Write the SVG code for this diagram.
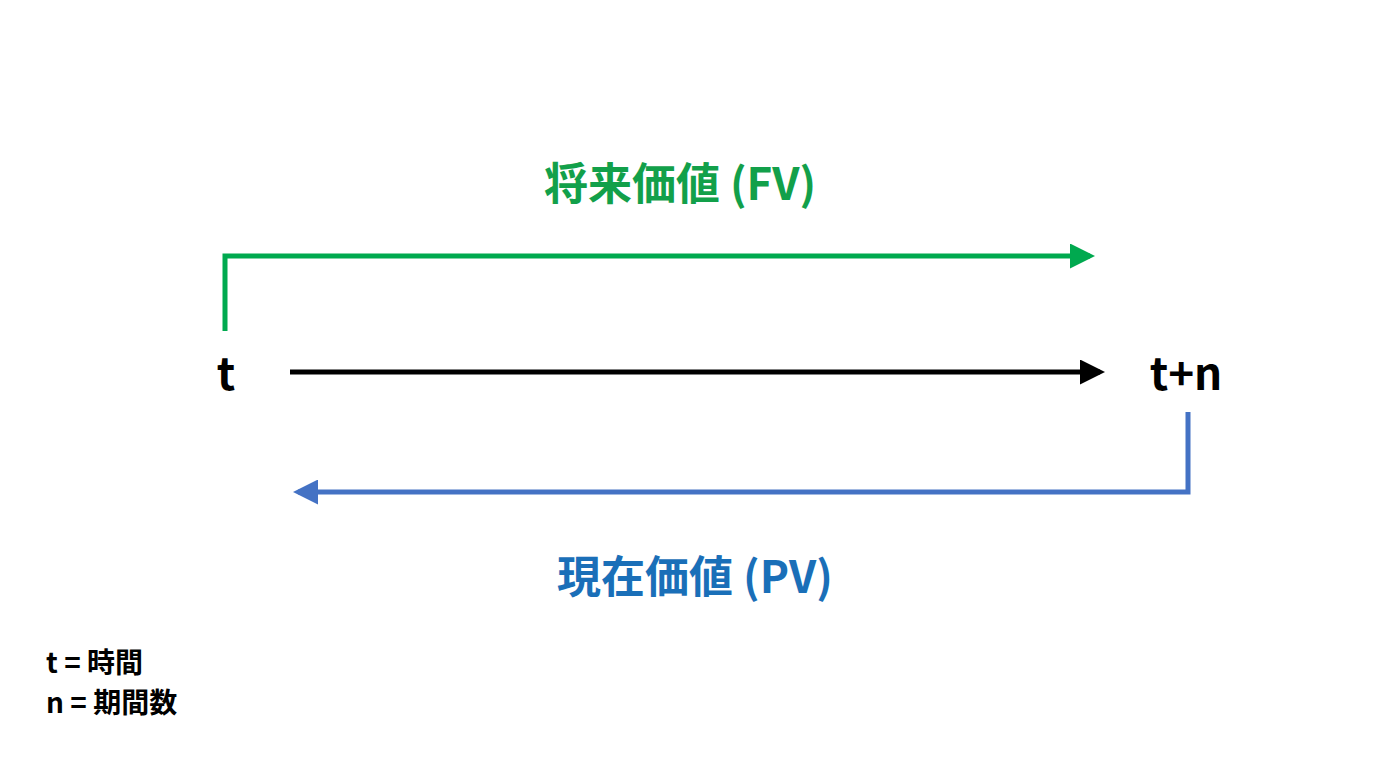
<svg xmlns="http://www.w3.org/2000/svg" width="1376" height="768" viewBox="0 0 1376 768">
<style>
text{font-family:"Noto Sans CJK JP","Noto Sans",sans-serif;font-weight:bold}
.big{font-size:44px}
.leg{font-size:28px;fill:#000}
</style>
<defs>
<marker id="ag" markerWidth="5" markerHeight="5" refX="4" refY="2.5" orient="auto" markerUnits="strokeWidth"><path d="M0,0L5,2.5L0,5z" fill="#00a94f"/></marker>
<marker id="ak" markerWidth="5" markerHeight="5" refX="4" refY="2.5" orient="auto" markerUnits="strokeWidth"><path d="M0,0L5,2.5L0,5z" fill="#000"/></marker>
<marker id="ab" markerWidth="5" markerHeight="5" refX="4" refY="2.5" orient="auto" markerUnits="strokeWidth"><path d="M0,0L5,2.5L0,5z" fill="#4472c4"/></marker>
</defs>
<rect width="1376" height="768" fill="#fff"/>
<g id="connectors" fill="none">
<path d="M225,331V256H1090" stroke="#00a94f" stroke-width="5" marker-end="url(#ag)"/>
<path d="M290,372H1100" stroke="#000" stroke-width="5" marker-end="url(#ak)"/>
<path d="M1188,412V492H298" stroke="#4472c4" stroke-width="5" marker-end="url(#ab)"/>
</g>
<g id="fv"><text class="big" x="680" y="200" text-anchor="middle" fill="#12a04a">将来価値 (FV)</text></g>
<g id="pv"><text class="big" x="695" y="593" text-anchor="middle" fill="#1a6fb8">現在価値 (PV)</text></g>
<g id="t"><text class="big" x="226" y="390" text-anchor="middle" fill="#000">t</text></g>
<g id="tn"><text class="big" x="1186" y="390" text-anchor="middle" fill="#000">t+n</text></g>
<g id="legend"><text class="leg" x="46" y="673">t = 時間</text><text class="leg" x="46" y="713">n = 期間数</text></g>
</svg>
